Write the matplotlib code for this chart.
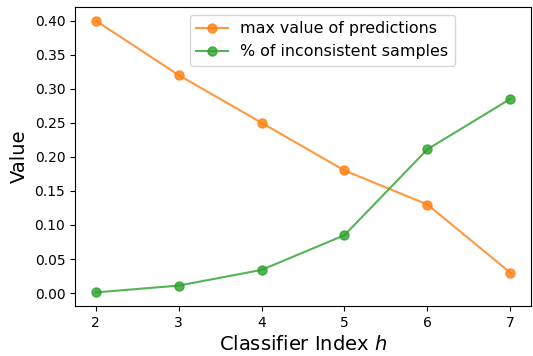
import matplotlib.pyplot as plt

classifier_index = [2, 3, 4, 5, 6, 7]
max_pred = [0.40, 0.32, 0.25, 0.18, 0.13, 0.03]
inconsistent = [0.001, 0.011, 0.034, 0.085, 0.211, 0.285]

fig = plt.figure(figsize=(5.33, 3.56), dpi=100)
ax = fig.add_axes([75 / 533, 50 / 356, 456 / 533, 299 / 356])

ax.plot(classifier_index, max_pred, marker='o', color='tab:orange', alpha=0.8,
        linewidth=1.5, markersize=6.5, label='max value of predictions')
ax.plot(classifier_index, inconsistent, marker='o', color='tab:green', alpha=0.8,
        linewidth=1.5, markersize=6.5, label='% of inconsistent samples')

ax.set_xlabel('Classifier Index $h$', fontsize=14)
ax.set_ylabel('Value', fontsize=14)
ax.tick_params(labelsize=10)
ax.legend(loc='upper center', bbox_to_anchor=(0.542, 1.0), fontsize=11.4)

fig.savefig('out.png', dpi=100)
